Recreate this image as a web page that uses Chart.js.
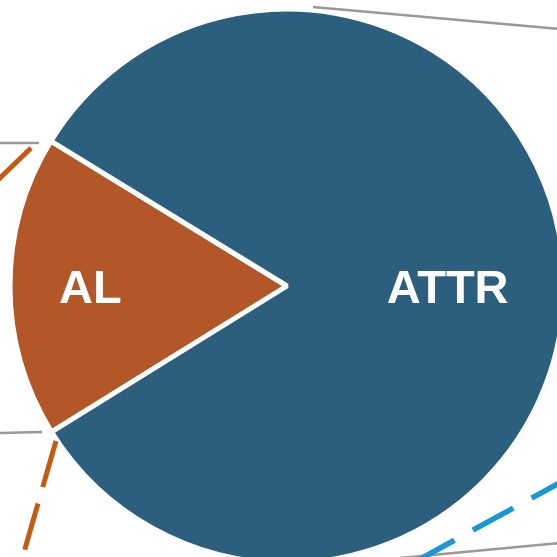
<!DOCTYPE html>
<html>
<head>
<meta charset="utf-8">
<script src="https://cdn.jsdelivr.net/npm/chart.js@4"></script>
<style>
  html, body { margin: 0; padding: 0; background: #ffffff; overflow: hidden; }
  #wrap { width: 557px; height: 557px; overflow: hidden; position: relative; }
  canvas { position: absolute; left: 0; top: 0; }
</style>
</head>
<body>
<div id="wrap"><canvas id="pieChart" width="574" height="572"></canvas></div>
<script>
var labels = ["AL", "ATTR"];
var shares = [17.6, 82.4];
var colors = ["#b35628", "#2c5e7e"];

// label distance from centre, as a fraction of the radius
var labelDepth = [0.71, 0.58];

// connector lines that run off the edge of the picture
var connectors = {
  id: "connectors",
  afterDraw: function (chart) {
    var c = chart.ctx;
    c.save();
    c.lineCap = "butt";

    c.strokeStyle = "#999999";
    c.lineWidth = 2.5;
    c.setLineDash([]);
    c.beginPath();
    c.moveTo(313, 7); c.lineTo(560, 29);
    c.moveTo(0, 143); c.lineTo(39, 143);
    c.moveTo(0, 433); c.lineTo(42, 432);
    c.moveTo(400, 558); c.lineTo(560, 543);
    c.stroke();

    c.strokeStyle = "#c55a11";
    c.lineWidth = 5;
    c.beginPath();
    c.moveTo(31, 148); c.lineTo(-2, 180);
    c.stroke();
    c.setLineDash([48, 17]);
    c.beginPath();
    c.moveTo(56, 441); c.lineTo(20, 566);
    c.stroke();

    c.strokeStyle = "#1a96d4";
    c.lineWidth = 5.5;
    c.setLineDash([46, 21]);
    c.beginPath();
    c.moveTo(572, 476); c.lineTo(400, 570);
    c.stroke();
    c.restore();
  }
};

var sliceLabels = {
  id: "sliceLabels",
  afterDatasetsDraw: function (chart) {
    var c = chart.ctx;
    var arcs = chart.getDatasetMeta(0).data;
    c.save();
    c.fillStyle = "#ffffff";
    c.font = "bold 47px 'Liberation Sans', Arial, sans-serif";
    c.textAlign = "center";
    c.textBaseline = "middle";
    arcs.forEach(function (arc, i) {
      var p = arc.getProps(["x", "y", "startAngle", "endAngle", "outerRadius"], true);
      var mid = (p.startAngle + p.endAngle) / 2;
      var d = p.outerRadius * labelDepth[i];
      c.fillText(labels[i], p.x + Math.cos(mid) * d, p.y + Math.sin(mid) * d + 4);
    });
    c.restore();
  }
};

var ctx = document.getElementById("pieChart").getContext("2d");
var myChart = new Chart(ctx, {
  type: "pie",
  data: {
    labels: labels,
    datasets: [
      {
        data: shares,
        backgroundColor: colors,
        borderColor: "#ffffff",
        borderWidth: 5,
      },
    ],
  },
  options: {
    responsive: false,
    animation: false,
    rotation: 238.2,
    radius: 277,
    layout: { padding: 0 },
    plugins: {
      legend: { display: false },
      tooltip: { enabled: false },
    },
  },
  plugins: [sliceLabels, connectors],
});
</script>
</body>
</html>
